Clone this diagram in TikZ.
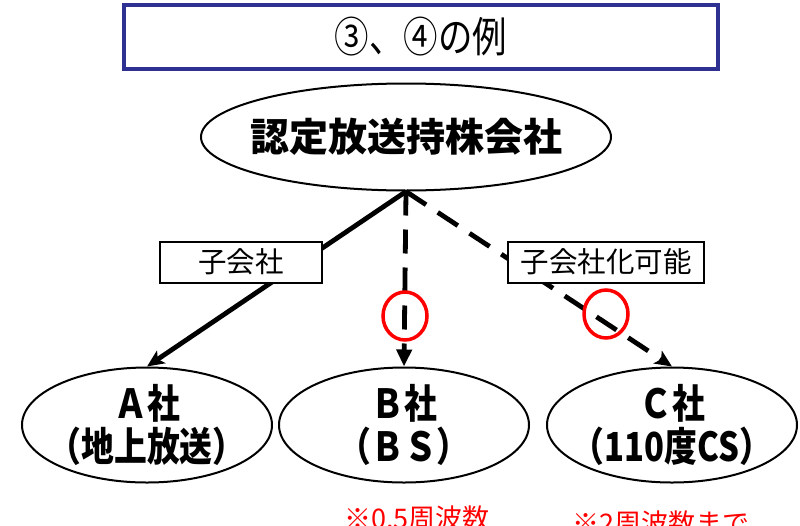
\documentclass[tikz,border=0pt]{standalone}
\usepackage{fontspec}
\setmainfont{Noto Sans CJK JP}
\newfontfamily\jpcond{Noto Sans CJK JP Black}[FakeStretch=0.82]
\newfontfamily\jptitle{Noto Sans CJK JP}[FakeStretch=0.82]
\usetikzlibrary{arrows.meta,shapes.geometric}
\definecolor{titlenavy}{RGB}{46,49,146}
\definecolor{markred}{RGB}{255,0,0}
\begin{document}
\begin{tikzpicture}[x=1pt,y=-1pt,
  company/.style={ellipse,draw,line width=2pt,inner sep=0pt,
    minimum width=250pt,minimum height=115pt},
  companytext/.style={inner sep=0pt,align=center,
    font=\jpcond\fontsize{40}{43}\selectfont},
  labelbox/.style={draw,fill=white,line width=2pt,inner sep=0pt,
    minimum height=41pt,font=\fontsize{28.5}{30}\selectfont},
  link/.style={line width=4.8pt},
  dashlink/.style={line width=4.8pt,dash pattern=on 24pt off 14pt},
  tipA/.style={-{Stealth[length=17pt,width=15pt,inset=4pt]}},
  tipB/.style={-{Triangle[length=17pt,width=15pt]}},
  ring/.style={draw=markred,line width=3.5pt},
  note/.style={text=markred,font=\fontsize{27}{30}\selectfont,inner sep=0pt,anchor=north west}
]
\useasboundingbox (0,0) rectangle (800,525);
\clip (0,0) rectangle (800,525);
% title
\node[draw=titlenavy,line width=4pt,minimum width=594pt,minimum height=64pt,inner sep=0pt,
  font=\jptitle\fontsize{42}{44}\selectfont] (title) at (421,37) {③、④の例};
% holding company
\node[ellipse,draw,line width=2pt,inner sep=0pt,minimum width=410pt,minimum height=107pt] (top) at (406,137) {};
\node[inner sep=0pt,font=\bfseries\fontsize{39}{42}\selectfont] (toptext) at (top.center) {認定放送持株会社};
% subsidiaries
\node[company] (A) at (147,425) {};
\node[company] (B) at (404,425) {};
\node[company] (C) at (672,425) {};
\node[companytext] (At) at (A.center) {Ａ社\\（地上放送）};
\node[companytext] (Bt) at (B.center) {Ｂ社\\（ＢＳ）};
\node[companytext] (Ct) at (C.center) {Ｃ社\\（110度CS）};
% connectors
\draw[link,tipA] (top.south) -- (A.north);
\draw[dashlink,tipB] (top.south) -- (B.north);
\draw[dashlink,tipA] (top.south) -- (C.north);
% labels
\node[labelbox,minimum width=162pt] (l1) at (241,262) {子会社};
\node[labelbox,minimum width=196pt] (l2) at (606,262) {子会社化可能};
% red rings
\draw[ring] (405,316) ellipse [x radius=22pt,y radius=24pt];
\draw[ring] (606,314) ellipse [x radius=22pt,y radius=24pt];
% notes
\node[note] (n1) at (344,506) {※0.5周波数};
\node[note] (n2) at (572,511) {※2周波数まで};
\end{tikzpicture}
\end{document}
